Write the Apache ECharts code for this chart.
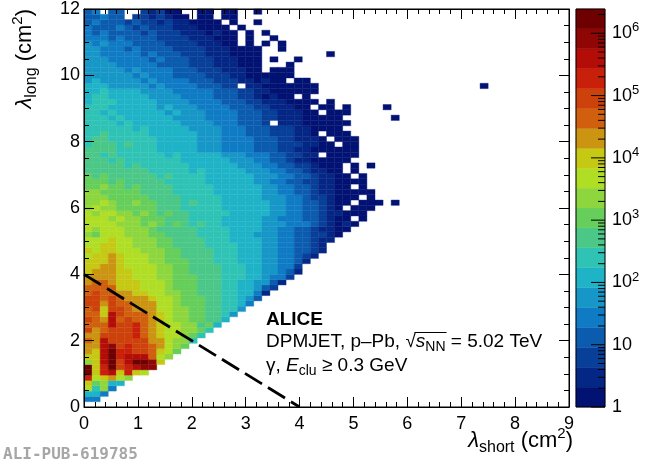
<!DOCTYPE html>
<html><head><meta charset="utf-8">
<script src="https://cdn.jsdelivr.net/npm/echarts@6/dist/echarts.min.js"></script>
<style>html,body{margin:0;padding:0;background:#fff}#c{width:650px;height:464px}</style>
</head><body><div id="c"></div>
<script>
// ---- data: 2D histogram, bin widths (cm^2) ----
const xBinWidth = 0.15;
const yBinWidth = 0.16;
// colour level of every bin, one string per lambda_long row (bottom -> top); '.' = empty
const levelCodes = '123456789abcdefghijk';
const levelRows = [
"",
"55",
"775",
"c8b5",
"dab77",
"hcdecb",
"kdhidhdc",
"kdhkghijj",
"bdikgikkjd",
"ddikhiiifcb",
"edikhhggfdca",
"eeijghggfecba",
"feigggggeecbb8",
"eegggghfedccba8",
"gefggghfedccbba8",
"fffigghfedccbb9a7",
"gfeifgffedcbbaa997",
"ffdigfffedcbbaa9986",
"fgdggfeeeccbbaa99886",
"ggegffeeeccbaaa998875",
"ggfgfeeedccbaaa9988764",
"fgffeeddccbbaa999887752",
"ffffdddcccbaaa9998877643",
"effedddcccbaaa99988776642",
"eeeeddcccbbaaa999888776553",
"deeeddcccbbaa99998887766542",
"ddeedccccbbaa99998887766553",
"dddedcccbbaaa999888777665542",
"cddedcccbbaa99998887776655432",
"dcddcccbbbaa999988877766554432",
"ccddccbbbaa9999888877766554432",
"cccdccbbbaa99998887777665544322",
"bacccbbbaa9999888877766655443321",
"cbcccbbba999998888777766554432211",
"ccccbbbaba9a9898877777666555432121",
"cccbcbbaaa99988887777766555443211.1",
"cbccbbaba9a998888877777665544322111",
"bcbbaaaaa99988888777777665544321.111",
"bbcbaabaa999898887777776655443211.111.1",
"bbbaaaaa99998888877777666554332111.1",
"bbaaaaa99998888877777766554432211111",
"aabaa9a99998888877777766554432211.1",
"aaa9a999998888877777766554433221111",
"a9a999999898888777777666554432211.1",
"99999999888887877777666554432211.1",
"99999898888887777776665544332111.1.1",
"999898888888777777666554432211111",
"99898888887877777666555443322.1111",
"9999888887777766655554443322111111",
"8999898887777766655554443332211.11",
"899888888777776665555444332221.111",
"88988888777777666555444333221.111",
"88888878777776666555444333221111",
"88887877777766665554443.222111111",
"88878777777666655554443322211111......1",
"88787777776766655554443322211.111",
"8887777776766655554443322211.11.1....1",
"78887777766665555444332221111.1",
"78877777666655554443321211.1",
"77877776666555554443322111111",
"7776666656555544433.221111111....................1",
"6766666565555444333221211.11",
"66666656555444433322111111",
"6666656555544433322211.111",
"6666555554444333222111...1",
"6665555545444333222111.1..1",
"6655555454443332221111........1",
"6655545444433332221111..1",
"6565554444333322211.1.1.1",
"5554544443333222111.1..1",
"5454444343332221211.1.1",
"544454343332221111.1",
"45444343323221111.1..1",
"44544.3323211.11.11",
"45.44..32311..11.11..1"
];
// ROOT kRainBow palette, 20 contour levels (log10 z from 0 to zLogMax)
const paletteColors = ['#021273','#042685','#073f99','#0b5cae','#0f7bc5','#1797c7','#1fb3c8','#2fc3b5','#4bc888','#66ce5a',
  '#8dd63e','#b0de25','#c6c914','#cb9411','#d0600d','#cd410b','#c92009','#b40d07','#900604','#6e0002'];
const zLogMax = 6.39;
const colorbarMajorExponents = [0, 1, 2, 3, 4, 5, 6];
const colorbarMinorMultipliers = [2, 3, 4, 5, 6, 7, 8, 9];
// dashed selection line
const cutLineX = [0, 4];
const cutLineY = [4, 0];

const FONT = '"Liberation Sans", Arial, Helvetica, sans-serif';

const cellData = [];
levelRows.forEach((row, j) => {
  for (let i = 0; i < row.length; i++) {
    const ch = row[i];
    if (ch === '.') continue;
    cellData.push([i * xBinWidth, j * yBinWidth, levelCodes.indexOf(ch) + 1]);
  }
});
const levelStep = zLogMax / paletteColors.length;
const colorbarData = paletteColors.map((c, k) => [0, k * levelStep, k]);
const colorbarTicks = [];
colorbarMajorExponents.forEach(n => {
  colorbarTicks.push([1, n, 1]);
  colorbarMinorMultipliers.forEach(m => {
    const v = n + Math.log10(m);
    if (v < zLogMax) colorbarTicks.push([1, v, 0]);
  });
});
const cutLineData = cutLineX.map((x, k) => [x, cutLineY[k]]);

const tickStyle = { color: '#000', width: 1 };
function mainAxis(extra) {
  return Object.assign({
    type: 'value', z: 10, gridIndex: 0,
    axisLine: { show: true, onZero: false, lineStyle: tickStyle },
    axisTick: { show: true, inside: true, length: 10, lineStyle: tickStyle },
    minorTick: { show: true, length: 5, lineStyle: tickStyle },
    splitLine: { show: false }, minorSplitLine: { show: false }
  }, extra);
}
const labelStyle = { show: true, color: '#000', fontSize: 18, fontFamily: FONT };

const richTitle = {
  it: { fontStyle: 'italic', fontFamily: FONT, fontSize: 22 },
  sub: { fontSize: 16, fontFamily: FONT, verticalAlign: 'bottom', lineHeight: 16 },
  sup: { fontSize: 15, fontFamily: FONT, verticalAlign: 'top', lineHeight: 15 }
};
const TXT = 19, SUBTXT = 14;
const richText = {
  it: { fontStyle: 'italic', fontFamily: FONT, fontSize: TXT },
  sub: { fontSize: SUBTXT, fontFamily: FONT, verticalAlign: 'bottom', lineHeight: SUBTXT }
};

// measure text to place the bar of the square-root sign
const mctx = document.createElement('canvas').getContext('2d');
mctx.font = TXT + 'px ' + FONT;
const wPre = mctx.measureText('DPMJET, p–Pb, ').width;
const wRad = mctx.measureText('√').width;
mctx.font = 'italic ' + TXT + 'px ' + FONT;
const wS = mctx.measureText('s').width;
mctx.font = SUBTXT + 'px ' + FONT;
const wNN = mctx.measureText('NN').width;
const textX = 266;

const option = {
  animation: false,
  backgroundColor: '#fff',
  grid: [
    { left: 84, top: 9, width: 485, height: 398, show: true, borderColor: '#000', borderWidth: 1, backgroundColor: 'transparent', z: 10, outerBoundsMode: 'none' },
    { left: 576, top: 9, width: 29, height: 398, show: true, borderColor: '#000', borderWidth: 1, backgroundColor: 'transparent', z: 10, outerBoundsMode: 'none' }
  ],
  xAxis: [
    mainAxis({ position: 'bottom', min: 0, max: 9, interval: 1, axisLabel: Object.assign({ margin: 8 }, labelStyle),
      minorTick: { show: true, length: 5, splitNumber: 5, lineStyle: tickStyle } }),
    mainAxis({ position: 'top', min: 0, max: 9, interval: 1, axisLabel: { show: false }, minorTick: { show: true, length: 5, splitNumber: 5, lineStyle: tickStyle } }),
    { type: 'value', gridIndex: 1, min: 0, max: 1, show: false }
  ],
  yAxis: [
    mainAxis({ position: 'left', min: 0, max: 12, interval: 2, axisLabel: Object.assign({ margin: 4, padding: [3, 0, 0, 0] }, labelStyle),
      minorTick: { show: true, length: 5, splitNumber: 4, lineStyle: tickStyle } }),
    mainAxis({ position: 'right', min: 0, max: 12, interval: 2, axisLabel: { show: false }, minorTick: { show: true, length: 5, splitNumber: 4, lineStyle: tickStyle } }),
    { type: 'value', gridIndex: 1, position: 'right', min: 0, max: zLogMax, interval: 1, z: 10,
      axisLine: { show: false }, axisTick: { show: false }, splitLine: { show: false },
      axisLabel: { show: true, color: '#000', fontSize: 18, fontFamily: FONT, margin: 7, lineHeight: 24,
        formatter: v => { const n = Math.round(v); if (Math.abs(v - n) > 1e-6) return ''; if (n === 0) return '1'; if (n === 1) return '10'; return '10{sup|' + n + '}'; },
        rich: { sup: { fontSize: 13, fontFamily: FONT, verticalAlign: 'top', lineHeight: 13, color: '#000' } } } }
  ],
  series: [
    { type: 'custom', xAxisIndex: 0, yAxisIndex: 0, data: cellData, encode: { x: 0, y: 1 }, silent: true, z: 2,
      renderItem: (params, api) => {
        const x0 = api.value(0), y0 = api.value(1), lvl = api.value(2);
        const a = api.coord([x0, y0 + yBinWidth]);
        const b = api.coord([x0 + xBinWidth, y0]);
        const c = paletteColors[lvl - 1];
        return { type: 'rect', shape: { x: a[0], y: a[1], width: b[0] - a[0], height: b[1] - a[1] }, style: { fill: c, stroke: c, lineWidth: 0.4 } };
      } },
    { type: 'line', xAxisIndex: 0, yAxisIndex: 0, data: cutLineData, symbol: 'none', silent: true, z: 5,
      lineStyle: { color: '#000', width: 2.8, type: [20, 7] } },
    { type: 'custom', xAxisIndex: 2, yAxisIndex: 2, data: colorbarData, encode: { x: 0, y: 1 }, silent: true, z: 2,
      renderItem: (params, api) => {
        const k = api.value(2);
        const a = api.coord([0, (k + 1) * levelStep]);
        const b = api.coord([1, k * levelStep]);
        const c = paletteColors[k];
        return { type: 'rect', shape: { x: a[0], y: a[1], width: b[0] - a[0], height: b[1] - a[1] }, style: { fill: c, stroke: c, lineWidth: 0.4 } };
      } },
    { type: 'custom', xAxisIndex: 2, yAxisIndex: 2, data: colorbarTicks, encode: { x: 0, y: 1 }, silent: true, z: 6,
      renderItem: (params, api) => {
        const p = api.coord([api.value(0), api.value(1)]);
        const len = api.value(2) ? 14 : 7;
        return { type: 'line', shape: { x1: p[0] - len, y1: p[1], x2: p[0], y2: p[1] }, style: { stroke: '#000', lineWidth: 1 } };
      } }
  ],
  graphic: [
    { type: 'text', x: 573, y: 441, silent: true, z: 20,
      style: { text: '{it|λ}{sub|short} (cm{sup|2})', fill: '#000', fontSize: 22, fontFamily: FONT, lineHeight: 30, align: 'right', verticalAlign: 'middle', rich: richTitle } },
    { type: 'text', x: 25, y: 9, rotation: Math.PI / 2, silent: true, z: 20,
      style: { text: '{it|λ}{sub|long} (cm{sup|2})', fill: '#000', fontSize: 22, fontFamily: FONT, lineHeight: 30, align: 'right', verticalAlign: 'middle', rich: richTitle } },
    { type: 'text', x: textX, y: 320, silent: true, z: 20,
      style: { text: 'ALICE', fill: '#000', fontSize: TXT, fontWeight: 'bold', fontFamily: FONT, align: 'left', verticalAlign: 'middle' } },
    { type: 'text', x: textX, y: 342, silent: true, z: 20,
      style: { text: 'DPMJET, p–Pb, √{it|s}{sub|NN} = 5.02 TeV', fill: '#000', fontSize: TXT, fontFamily: FONT, lineHeight: 25, align: 'left', verticalAlign: 'middle', rich: richText } },
    { type: 'line', silent: true, z: 20,
      shape: { x1: textX + wPre + wRad * 0.88, y1: 332.5, x2: textX + wPre + wRad + wS + wNN + 1, y2: 332.5 },
      style: { stroke: '#000', lineWidth: 1.2 } },
    { type: 'text', x: textX, y: 366, silent: true, z: 20,
      style: { text: 'γ, {it|E}{sub|clu} ≥ 0.3 GeV', fill: '#000', fontSize: TXT, fontFamily: FONT, lineHeight: 25, align: 'left', verticalAlign: 'middle', rich: richText } },
    { type: 'text', x: 3, y: 455, silent: true, z: 20,
      style: { text: 'ALI-PUB-619785', fill: '#a6a6a6', fontSize: 16, fontWeight: 'bold', fontFamily: '"DejaVu Sans Mono", monospace', align: 'left', verticalAlign: 'middle' } }
  ]
};

const chart = echarts.init(document.getElementById('c'), null, { renderer: 'canvas' });
chart.setOption(option);
</script>
</body></html>
